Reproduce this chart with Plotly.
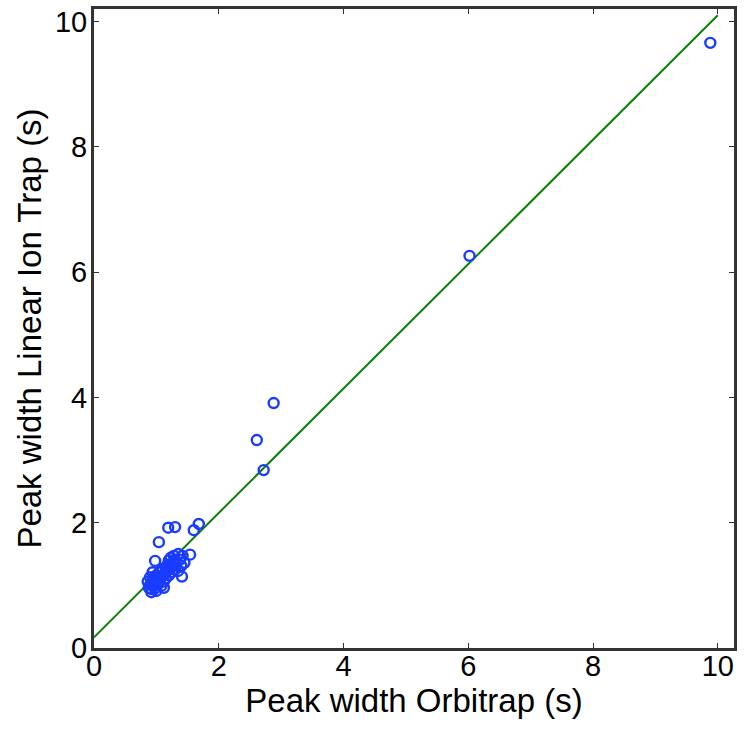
import plotly.graph_objects as go

# Peak widths (s): Orbitrap (x) vs Linear Ion Trap (y)
orbitrap = [
    9.88, 6.02, 2.88, 2.61, 2.72, 1.68, 1.60, 1.30, 1.19, 1.04, 0.98, 1.54, 1.41,
    0.88, 0.90, 0.92, 0.93, 0.95, 0.95, 0.97, 0.98, 1.00, 1.00, 1.02, 1.03, 1.05,
    1.05, 1.07, 1.08, 1.10, 1.10, 1.12, 1.13, 1.15, 1.15, 1.17, 1.18, 1.20, 1.20,
    1.22, 1.23, 1.25, 1.25, 1.27, 1.28, 1.30, 1.30, 1.32, 1.35, 1.35, 1.38, 1.40,
    1.42, 0.90, 0.92, 1.00, 1.45, 0.86, 0.94, 1.12,
]
linear_ion_trap = [
    9.66, 6.26, 3.91, 3.32, 2.84, 1.98, 1.88, 1.93, 1.92, 1.69, 1.39, 1.49, 1.14,
    0.96, 1.01, 0.94, 1.06, 0.99, 1.11, 1.03, 0.95, 1.09, 1.16, 1.01, 1.13, 1.06,
    1.21, 1.11, 0.99, 1.16, 1.26, 1.06, 1.19, 1.29, 1.11, 1.23, 1.33, 1.16, 1.40,
    1.26, 1.44, 1.31, 1.21, 1.36, 1.47, 1.26, 1.41, 1.34, 1.50, 1.23, 1.41, 1.31,
    1.47, 1.13, 0.89, 0.91, 1.36, 1.06, 1.21, 0.96,
]

# Fitted line endpoints
fit_x = [0.0, 10.0]
fit_y = [0.17, 10.1]

FONT = "Liberation Sans, Arial, sans-serif"

fig = go.Figure()
fig.add_trace(go.Scatter(
    x=fit_x, y=fit_y, mode="lines",
    line=dict(color="#0a800a", width=2), showlegend=False,
))
fig.add_trace(go.Scatter(
    x=orbitrap, y=linear_ion_trap, mode="markers",
    marker=dict(symbol="circle-open", size=10, color="#1a3cff",
                line=dict(width=2.4, color="#1a3cff")),
    showlegend=False,
))

axis_common = dict(
    showgrid=False, zeroline=False, showline=True, mirror="allticks",
    linecolor="#333333", linewidth=3, ticks="inside", ticklen=5,
    tickcolor="#333333", tickwidth=1, automargin=False,
    ticklabeloverflow="allow",
    tickfont=dict(family=FONT, size=29, color="black"),
    tickvals=[0, 2, 4, 6, 8, 10],
)

fig.update_layout(
    width=745, height=734,
    margin=dict(l=94, r=11, t=9, b=86),
    paper_bgcolor="white", plot_bgcolor="white",
    font=dict(family=FONT, color="black"),
    xaxis=dict(range=[0, 10.26], ticklabelstandoff=-10,
               title=dict(text="Peak width Orbitrap (s)",
                          font=dict(family=FONT, size=33), standoff=2),
               **axis_common),
    yaxis=dict(range=[0, 10.2], ticklabelstandoff=-2,
               title=dict(text="Peak width Linear Ion Trap (s)",
                          font=dict(family=FONT, size=33), standoff=4),
               **axis_common),
)

# remove the default page body margin so the figure fills the window exactly
fig.write_html(
    "out.html",
    config={"displayModeBar": False},
    post_script="document.body.style.margin='0';document.body.style.overflow='hidden';",
)
